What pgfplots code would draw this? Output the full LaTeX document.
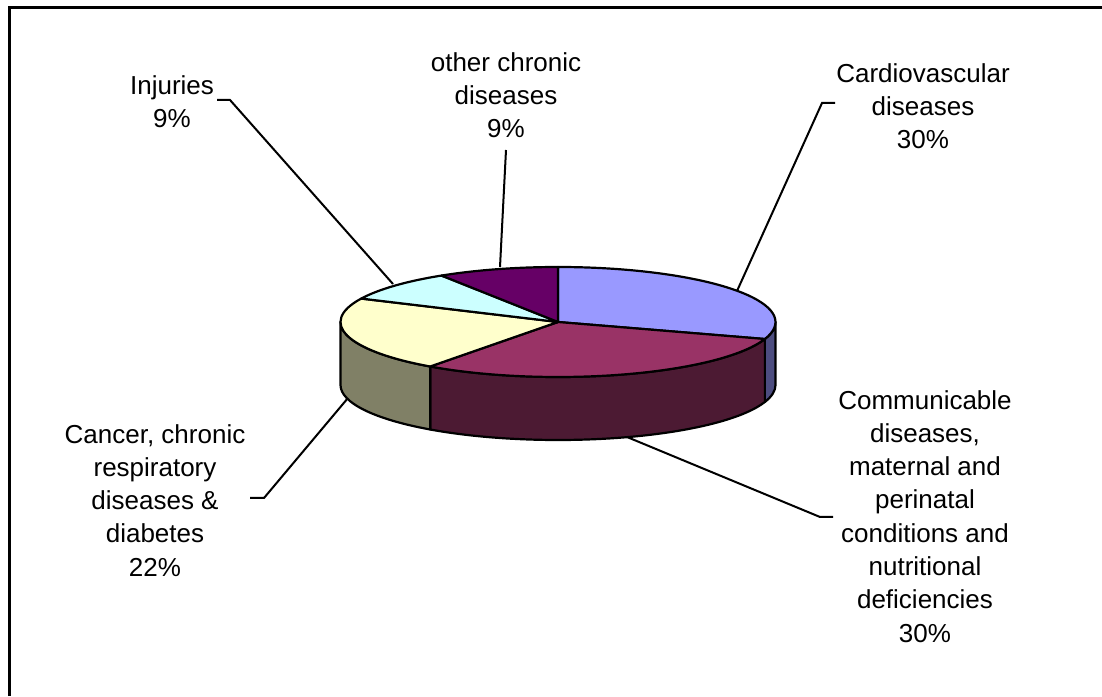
\documentclass[border=0pt]{standalone}
\usepackage{pgfplots}
\usepackage{pgfplotstable}
\pgfplotsset{compat=1.18}
\usepackage{fontspec}
\setmainfont{Liberation Sans}
\definecolor{cardioT}{HTML}{9999FF}
\definecolor{cardioS}{HTML}{4D4D80}
\definecolor{commT}{HTML}{993366}
\definecolor{commS}{HTML}{4C1A33}
\definecolor{cancT}{HTML}{FFFFCC}
\definecolor{cancS}{HTML}{808066}
\definecolor{injT}{HTML}{CCFFFF}
\definecolor{injS}{HTML}{668080}
\definecolor{othT}{HTML}{660066}
\definecolor{othS}{HTML}{330033}

% share (%), top colour, side colour -- clockwise from 12 o'clock
\pgfplotstableread{
value top    side
30    cardioT cardioS
30    commT   commS
22    cancT   cancS
9     injT    injS
9     othT    othS
}\piedata

\begin{document}
\begin{tikzpicture}
\begin{axis}[
  x=1pt, y=1pt,
  xmin=0, xmax=1102, ymin=0, ymax=696,
  scale only axis,
  hide axis,
  clip=true,
]
% pin the picture to the full axis box
\path[fill=white] (axis cs:0,0) rectangle (axis cs:1102,696);
% frame (only left and top edges fall inside the picture)
\draw[line width=3pt, black, line cap=butt, line join=miter] (axis cs:9,0) -- (axis cs:9,688.5) -- (axis cs:1102,688.5);

% leader lines
\draw[line width=2pt] (axis cs:737,405) -- (axis cs:822,593) -- (axis cs:835,593);
\draw[line width=2pt] (axis cs:627,259) -- (axis cs:820,179) -- (axis cs:833,179);
\draw[line width=2pt] (axis cs:348,298) -- (axis cs:264,198) -- (axis cs:250,198);
\draw[line width=2pt] (axis cs:393,412) -- (axis cs:230,596) -- (axis cs:217,596);
\draw[line width=2pt] (axis cs:500,429) -- (axis cs:506,546);

\pgfplotsextra{
  \pgfplotstablegetrowsof{\piedata}
  \pgfmathtruncatemacro\lastrow{\pgfplotsretval-1}
  % visible side walls (front half: angles -180..0)
  \gdef\curang{90}
  \foreach \row in {0,...,\lastrow}{
    \pgfplotstablegetelem{\row}{value}\of\piedata \let\sliceval\pgfplotsretval
    \pgfplotstablegetelem{\row}{side}\of\piedata \let\sidecol\pgfplotsretval
    \pgfmathsetmacro\endang{\curang-3.6*\sliceval}
    \pgfmathsetmacro\hiang{min(\curang,0)}
    \pgfmathsetmacro\loang{max(\endang,-180)}
    \ifdim\loang pt<\hiang pt
      \filldraw[fill=\sidecol, draw=black, line width=2.2pt, line join=round]
        (axis cs:558,374) ++(\hiang:217.5pt and 55pt)
        arc[start angle=\hiang, end angle=\loang, x radius=217.5pt, y radius=55pt]
        -- ++(0pt,-63pt)
        arc[start angle=\loang, end angle=\hiang, x radius=217.5pt, y radius=55pt]
        -- cycle;
    \fi
    \xdef\curang{\endang}
  }
  % top faces
  \gdef\curang{90}
  \foreach \row in {0,...,\lastrow}{
    \pgfplotstablegetelem{\row}{value}\of\piedata \let\sliceval\pgfplotsretval
    \pgfplotstablegetelem{\row}{top}\of\piedata \let\topcol\pgfplotsretval
    \pgfmathsetmacro\endang{\curang-3.6*\sliceval}
    \filldraw[fill=\topcol, draw=black, line width=2.2pt, line join=round]
      (axis cs:558,374) -- ++(\curang:217.5pt and 55pt)
      arc[start angle=\curang, end angle=\endang, x radius=217.5pt, y radius=55pt]
      -- cycle;
    \xdef\curang{\endang}
  }
}

% labels
\tikzset{lbl/.style={anchor=north, inner sep=0pt, align=center,
  font=\fontsize{26}{33.3}\selectfont}}
\node[lbl] at (axis cs:923,633) {Cardiovascular\\diseases\\30\%};
\node[lbl] at (axis cs:925,306) {Communicable\\diseases,\\maternal and\\perinatal\\conditions and\\nutritional\\deficiencies\\30\%};
\node[lbl] at (axis cs:155,272) {Cancer, chronic\\respiratory\\diseases \&\\diabetes\\22\%};
\node[lbl] at (axis cs:172,621) {Injuries\\9\%};
\node[lbl] at (axis cs:506,644) {other chronic\\diseases\\9\%};
\end{axis}
\end{tikzpicture}
\end{document}
